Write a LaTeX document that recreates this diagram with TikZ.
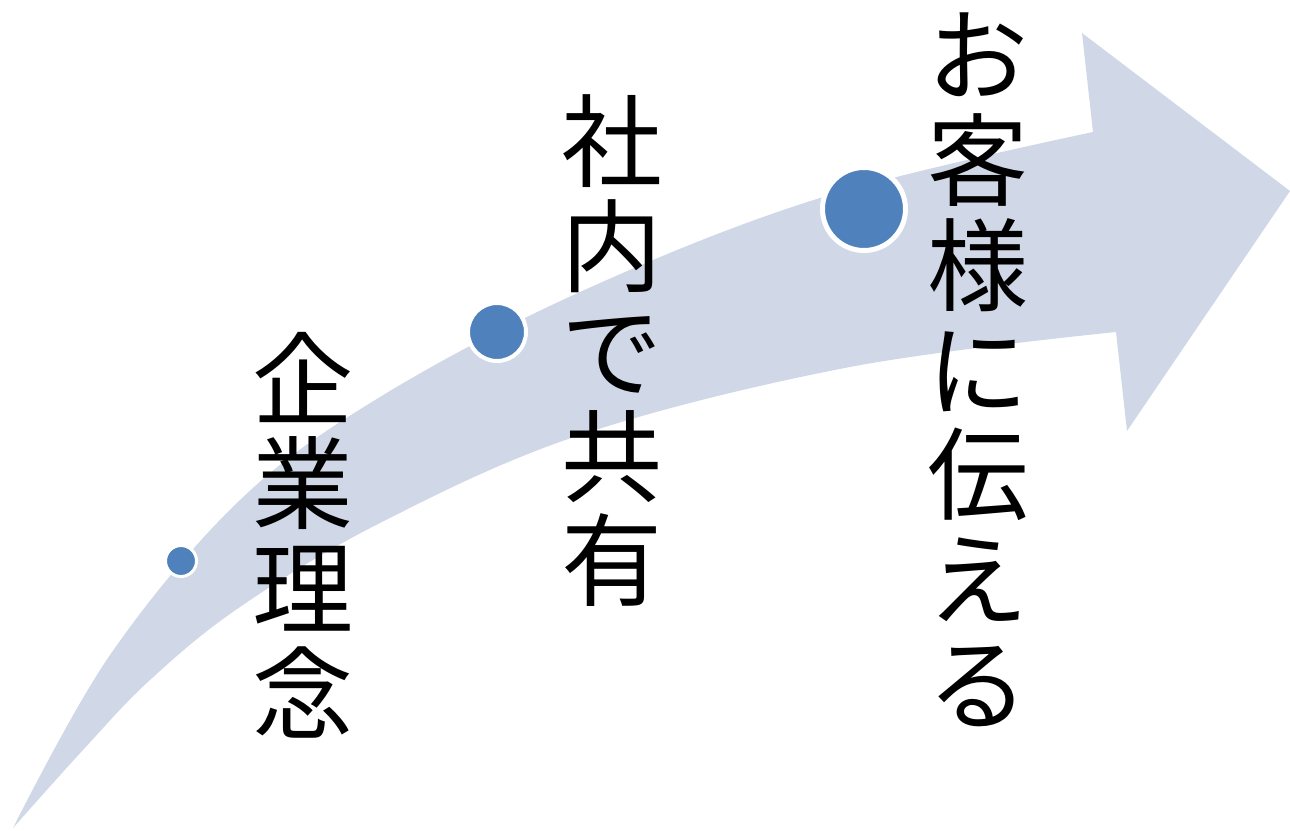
\documentclass[tikz,border=0pt]{standalone}
\usepackage{fontspec}
\newfontfamily\jpfont{Noto Sans CJK JP}
\definecolor{bandcol}{RGB}{208,216,232}
\definecolor{dotcol}{RGB}{79,129,189}
\tikzset{
  stage/.style={align=center,inner sep=0pt,font=\jpfont\fontsize{57.5}{59.6}\selectfont},
  milestone/.style={circle,fill=dotcol,draw=white,inner sep=0pt}
}

\begin{document}
\begin{tikzpicture}[x=0.2mm,y=-0.2mm]
  \useasboundingbox (0,0) rectangle (1290,831);
  % curved arrow
  \fill[bandcol] plot[smooth,tension=0.6] coordinates {(13,828) (110,655) (240,500) (380,397) (580,292) (820,198) (1093,132)}
    -- (1082,33) -- (1290,191) -- (1127,431) -- (1116,332)
    -- plot[smooth,tension=0.6] coordinates {(1116,332) (850,367) (580,435) (380,523) (240,607) (150,680) (83,750) (13,828)}
    -- cycle;
  % points on the arrow
  \node[milestone,minimum size=6.2mm,line width=0.6mm] (p1) at (181,561) {};
  \node[milestone,minimum size=11.6mm,line width=0.8mm] (p2) at (497,332) {};
  \node[milestone,minimum size=16.6mm,line width=1mm] (p3) at (864,209) {};
  % labels
  \node[stage] (s1) at (303,535) {企\\業\\理\\念};
  \node[stage] (s2) at (612,351) {社\\内\\で\\共\\有};
  \node[stage] (s3) at (978,370) {お\\客\\様\\に\\伝\\え\\る};
\end{tikzpicture}
\end{document}
